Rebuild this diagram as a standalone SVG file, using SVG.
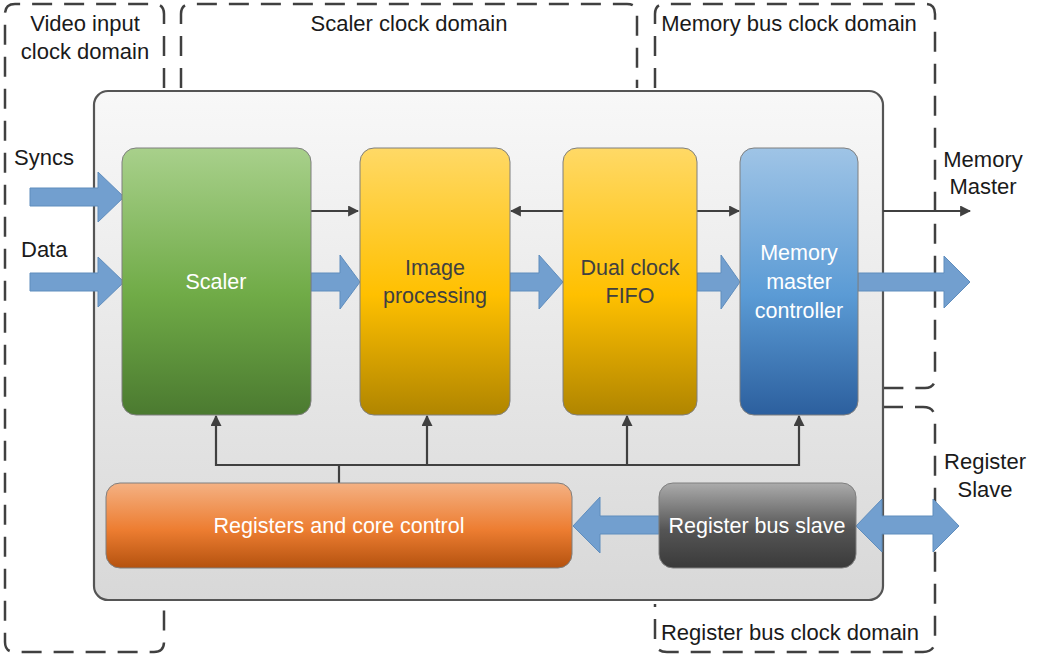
<svg xmlns="http://www.w3.org/2000/svg" width="1043" height="666" viewBox="0 0 1043 666">
<style>
.dash{fill:none;stroke:#404040;stroke-width:2.5;stroke-dasharray:20 12;}
.lbl{font-family:"Liberation Sans",Arial,sans-serif;font-size:22px;fill:#1a1a1a;}
.mid{text-anchor:middle;}
.wt{font-family:"Liberation Sans",Arial,sans-serif;font-size:21.5px;fill:#ffffff;text-anchor:middle;}
.dk{font-family:"Liberation Sans",Arial,sans-serif;font-size:21.5px;fill:#404040;text-anchor:middle;}
.blk{stroke:#7f7f7f;stroke-width:1;}
.barrow{fill:#729fcf;stroke:#5f8dbd;stroke-width:1;}
.line{fill:none;stroke:#404040;stroke-width:2.2;}
</style>
<defs>
<linearGradient id="gMain" x1="0" y1="0" x2="0" y2="1"><stop offset="0" stop-color="#f8f8f8"/><stop offset="1" stop-color="#d8d8d8"/></linearGradient>
<linearGradient id="gGreen" x1="0" y1="0" x2="0" y2="1"><stop offset="0" stop-color="#a8d08b"/><stop offset="0.55" stop-color="#70ab47"/><stop offset="1" stop-color="#4b7a30"/></linearGradient>
<linearGradient id="gYellow" x1="0" y1="0" x2="0" y2="1"><stop offset="0" stop-color="#ffd966"/><stop offset="0.55" stop-color="#ffc000"/><stop offset="1" stop-color="#b08500"/></linearGradient>
<linearGradient id="gBlue" x1="0" y1="0" x2="0" y2="1"><stop offset="0" stop-color="#9fc4e6"/><stop offset="0.55" stop-color="#5b9bd5"/><stop offset="1" stop-color="#2c5f9e"/></linearGradient>
<linearGradient id="gOrange" x1="0" y1="0" x2="0" y2="1"><stop offset="0" stop-color="#f4b183"/><stop offset="0.55" stop-color="#ed7d31"/><stop offset="1" stop-color="#b4520f"/></linearGradient>
<linearGradient id="gGray" x1="0" y1="0" x2="0" y2="1"><stop offset="0" stop-color="#ababab"/><stop offset="0.55" stop-color="#555555"/><stop offset="1" stop-color="#3a3a3a"/></linearGradient>
<marker id="ah" viewBox="0 0 10 10" refX="9" refY="5" markerWidth="5" markerHeight="5" orient="auto" markerUnits="strokeWidth"><path d="M0,0 L10,5 L0,10 z" fill="#404040"/></marker>
</defs>

<g id="domains">
<path id="dom-video" class="dash" d="M164,88 V14 Q164,4 154,4 H15 Q5,4 5,14 V642 Q5,652 15,652 H154 Q164,652 164,642 V604"/>
<path id="dom-scaler" class="dash" d="M181,88 V14 Q181,4 191,4 H627 Q637,4 637,14 V88"/>
<path id="dom-membus" class="dash" d="M655,88 V14 Q655,4 665,4 H925 Q935,4 935,14 V378 Q935,388 925,388 H883"/>
<path id="dom-regbus" class="dash" d="M883,407 H923 Q935,407 935,419 V640 Q935,652 923,652 H667 Q655,652 655,640 V604"/>
<text class="lbl mid" x="85" y="31">Video input</text>
<text class="lbl mid" x="85" y="59">clock domain</text>
<text class="lbl mid" x="409" y="31">Scaler clock domain</text>
<text class="lbl mid" x="789" y="31">Memory bus clock domain</text>
<text class="lbl mid" x="790" y="640">Register bus clock domain</text>
</g>

<g id="core">
<rect x="94" y="91" width="789" height="509" rx="14" fill="url(#gMain)" stroke="#555555" stroke-width="2.2"/>
</g>

<g id="connectors">
<polygon class="barrow" points="30,188 98,188 98,172 124,197 98,222 98,206 30,206"/>
<polygon class="barrow" points="30,273 98,273 98,257 124,282 98,307 98,291 30,291"/>
<polygon class="barrow" points="311,273 340,273 340,255 360,282 340,309 340,291 311,291"/>
<polygon class="barrow" points="510,273 539,273 539,255 563,282 539,309 539,291 510,291"/>
<polygon class="barrow" points="697,273 721,273 721,255 740,282 721,309 721,291 697,291"/>
<polygon class="barrow" points="858,273 944,273 944,256 970,282 944,308 944,291 858,291"/>
<polygon class="barrow" points="573,526 600,497 600,516 659,516 659,534 600,534 600,553"/>
<polygon class="barrow" points="856,526 882,499 882,516 933,516 933,499 959,526 933,552 933,534 882,534 882,552"/>
<line class="line" x1="311" y1="211" x2="358" y2="211" marker-end="url(#ah)"/>
<line class="line" x1="563" y1="211" x2="511" y2="211" marker-end="url(#ah)"/>
<line class="line" x1="697" y1="211" x2="739" y2="211" marker-end="url(#ah)"/>
<line class="line" x1="883" y1="211" x2="970" y2="211" marker-end="url(#ah)"/>
<path class="line" d="M339,483 V465"/>
<path class="line" d="M216,465 H800"/>
<line class="line" x1="216" y1="466" x2="216" y2="416" marker-end="url(#ah)"/>
<line class="line" x1="427" y1="466" x2="427" y2="416" marker-end="url(#ah)"/>
<line class="line" x1="627" y1="466" x2="627" y2="416" marker-end="url(#ah)"/>
<line class="line" x1="799" y1="466" x2="799" y2="416" marker-end="url(#ah)"/>
</g>

<g id="io-labels">
<text class="lbl" x="14" y="165" fill="#333">Syncs</text>
<text class="lbl" x="21" y="257">Data</text>
<text class="lbl mid" x="983" y="167">Memory</text>
<text class="lbl mid" x="983" y="194">Master</text>
<text class="lbl mid" x="985" y="469">Register</text>
<text class="lbl mid" x="985" y="497">Slave</text>
</g>

<g id="scaler">
<rect class="blk" x="122" y="148" width="189" height="267" rx="14" fill="url(#gGreen)"/>
<text class="wt" x="216" y="289">Scaler</text>
</g>
<g id="image-processing">
<rect class="blk" x="360" y="148" width="150" height="267" rx="14" fill="url(#gYellow)"/>
<text class="dk" x="435" y="275">Image</text>
<text class="dk" x="435" y="303">processing</text>
</g>
<g id="fifo">
<rect class="blk" x="563" y="148" width="134" height="267" rx="14" fill="url(#gYellow)"/>
<text class="dk" x="630" y="275">Dual clock</text>
<text class="dk" x="630" y="303">FIFO</text>
</g>
<g id="memory-master">
<rect class="blk" x="740" y="148" width="118" height="267" rx="14" fill="url(#gBlue)"/>
<text class="wt" x="799" y="260">Memory</text>
<text class="wt" x="799" y="289">master</text>
<text class="wt" x="799" y="318">controller</text>
</g>
<g id="registers">
<rect class="blk" x="106" y="483" width="466" height="85" rx="14" fill="url(#gOrange)"/>
<text class="wt" x="339" y="533">Registers and core control</text>
</g>
<g id="register-bus-slave">
<rect class="blk" x="659" y="483" width="197" height="85" rx="14" fill="url(#gGray)"/>
<text class="wt" x="757" y="533">Register bus slave</text>
</g>
</svg>
